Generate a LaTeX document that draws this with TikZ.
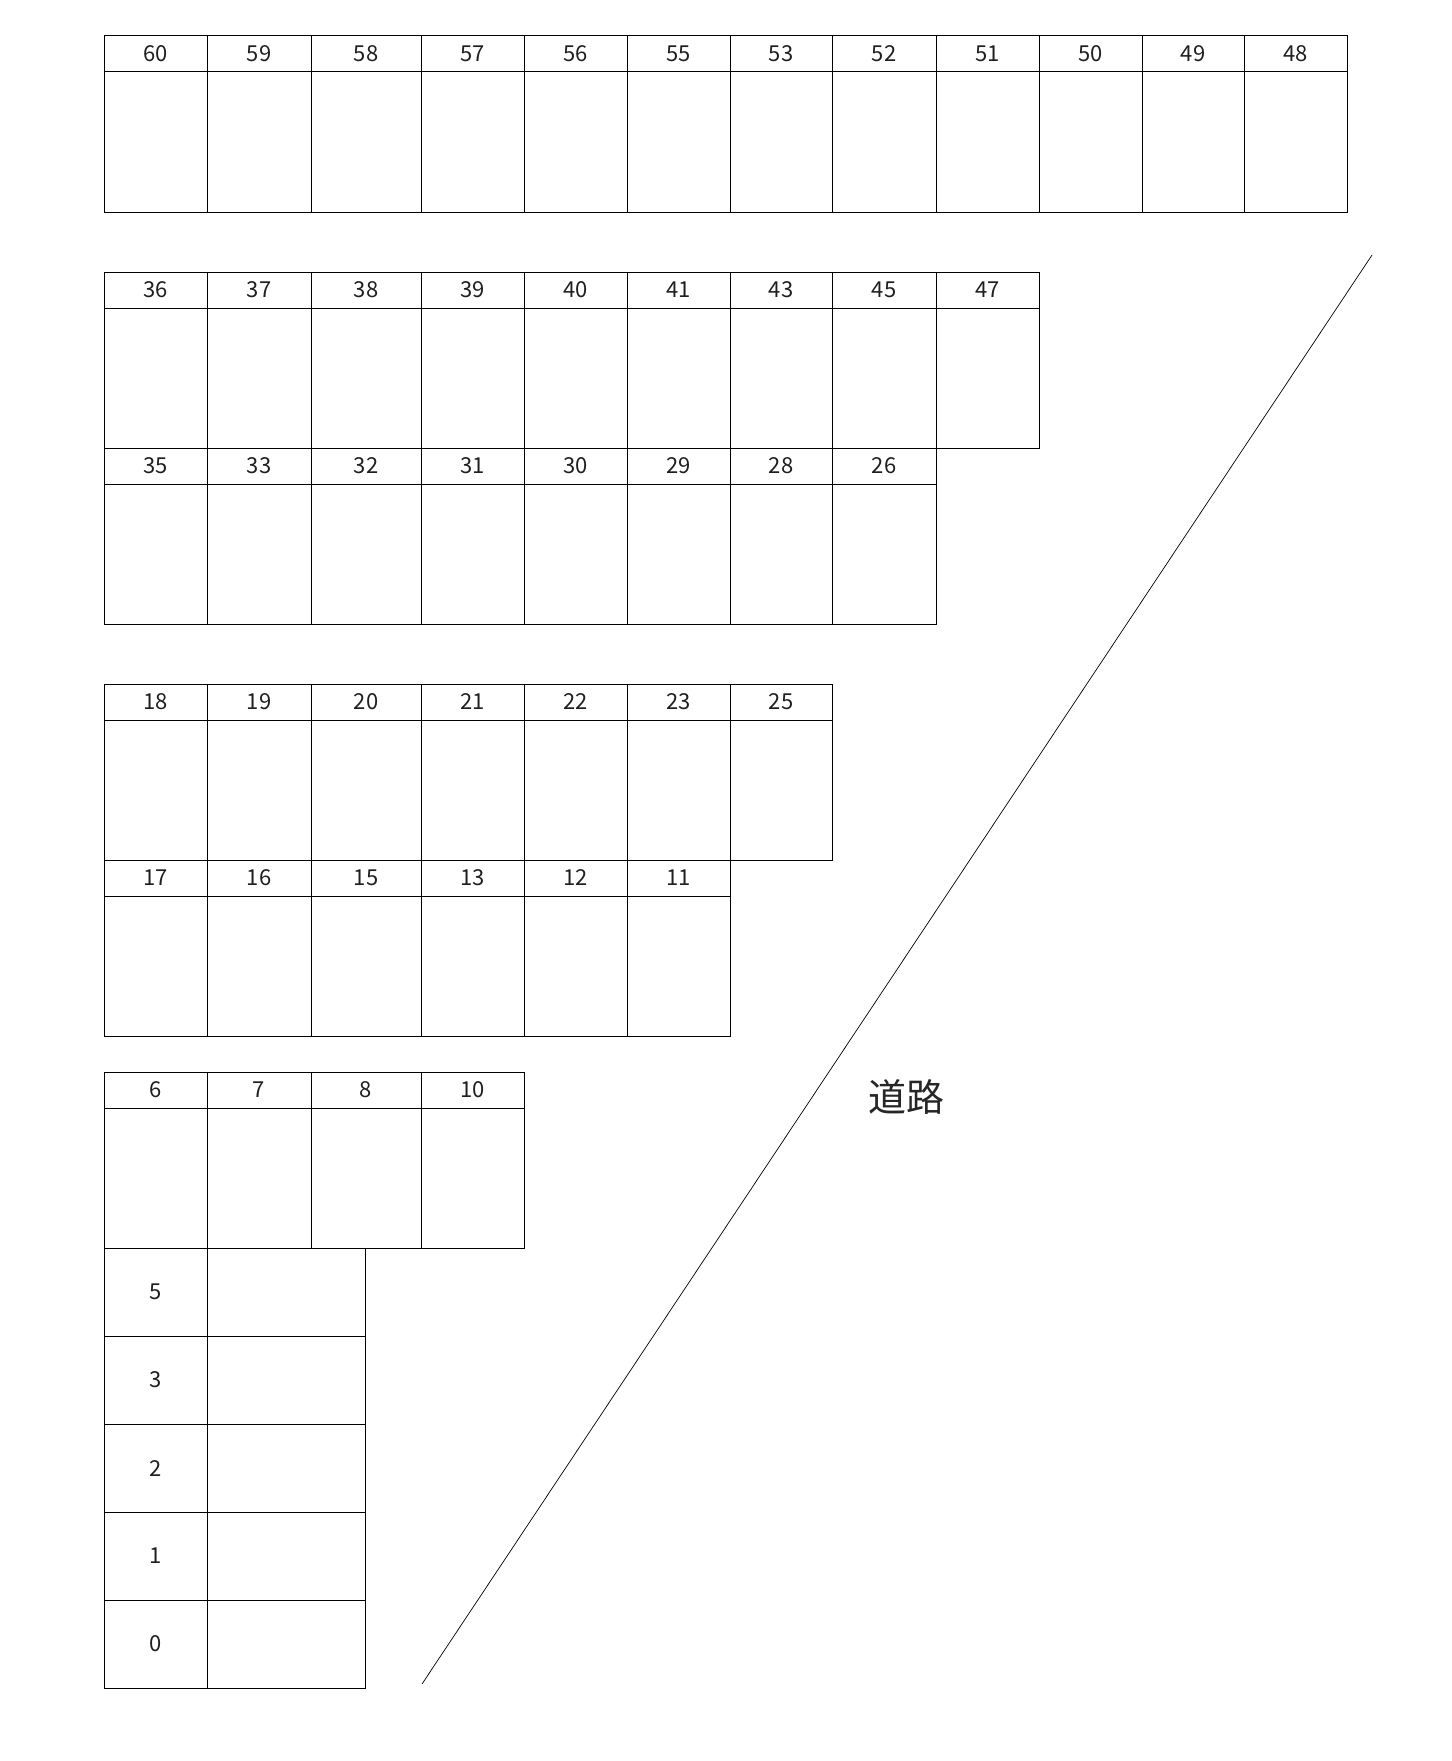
\documentclass[tikz,border=0pt]{standalone}
\usepackage{fontspec}
\setmainfont{Noto Sans CJK JP}
\def\cx{{104,207,311,421,524,627,730,832,936,1039,1142,1244,1347}}
\newcommand\lotrow[3]{%
  \foreach \i/\lab in {#2} {%
    \pgfmathsetmacro\xa{\cx[\i]}%
    \pgfmathsetmacro\xb{\cx[\i+1]}%
    \pgfmathsetmacro\w{\xb-\xa}%
    \node[cellbox,minimum width=\w pt,minimum height=36pt] (h#3-\i) at (\xa,#1) {\lab};
    \node[cellbox,minimum width=\w pt,minimum height=140pt] (b#3-\i) at (\xa,#1+36) {};
  }}
\begin{document}
\begin{tikzpicture}[x=1pt,y=-1pt,
  cellbox/.style={draw,line width=1pt,inner sep=0pt,outer sep=0pt,anchor=north west,
    text=black!88,font=\fontsize{22}{24}\selectfont},
  roadline/.style={line width=0.7pt},
  roadlabel/.style={text=black!85,font=\fontsize{38}{40}\selectfont}]
\useasboundingbox (0,0) rectangle (1451,1761);
\lotrow{36}{0/60,1/59,2/58,3/57,4/56,5/55,6/53,7/52,8/51,9/50,10/49,11/48}{a}
\lotrow{272}{0/36,1/37,2/38,3/39,4/40,5/41,6/43,7/45,8/47}{b}
\lotrow{448}{0/35,1/33,2/32,3/31,4/30,5/29,6/28,7/26}{c}
\lotrow{684}{0/18,1/19,2/20,3/21,4/22,5/23,6/25}{d}
\lotrow{860}{0/17,1/16,2/15,3/13,4/12,5/11}{e}
\lotrow{1072}{0/6,1/7,2/8,3/10}{f}
\foreach \k/\lab in {0/5,1/3,2/2,3/1,4/0} {
  \node[cellbox,minimum width=103pt,minimum height=88pt] (l\k) at (104,1248+88*\k) {\lab};
  \node[cellbox,minimum width=158pt,minimum height=88pt] (v\k) at (207,1248+88*\k) {};
}
\coordinate (rs) at (422,1684);
\coordinate (re) at (1372,255);
\draw[roadline] (rs) -- (re);
\node[roadlabel] (road) at (906,1097) {道路};
\end{tikzpicture}
\end{document}
